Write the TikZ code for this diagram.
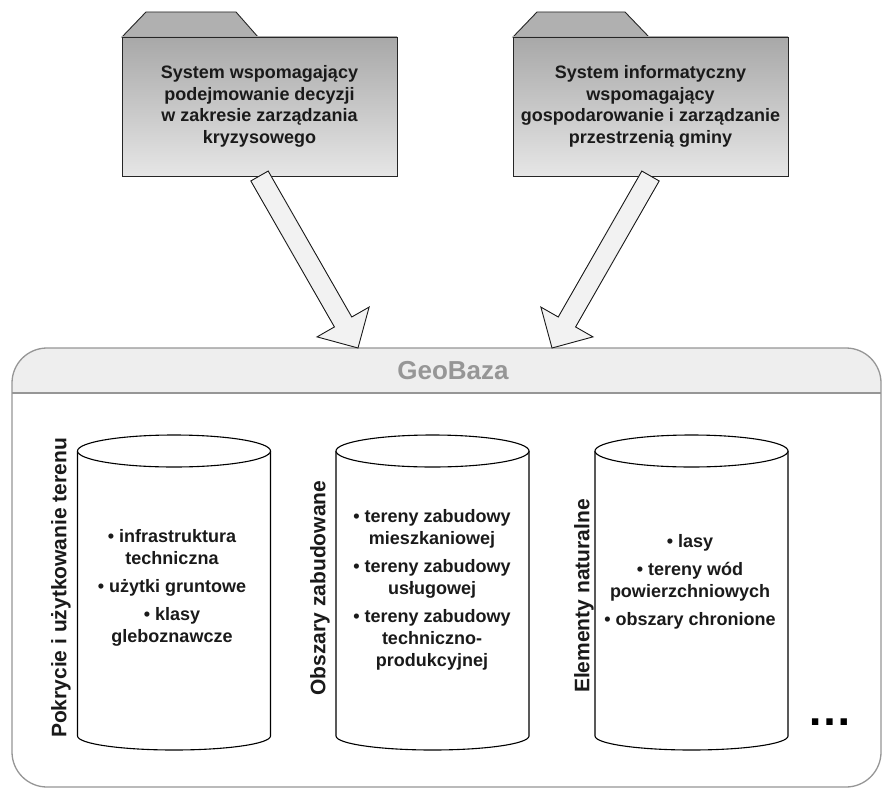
\documentclass[tikz,border=0pt]{standalone}
\usepackage{fontspec}
\setmainfont{Liberation Sans}
\usetikzlibrary{calc}
\definecolor{foldtop}{RGB}{168,168,168}
\definecolor{foldbot}{RGB}{230,230,230}
\definecolor{tabfill}{RGB}{176,176,176}
\definecolor{arrowfill}{RGB}{242,242,242}
\definecolor{hdrfill}{RGB}{238,238,238}
\definecolor{geoline}{RGB}{150,150,150}
\definecolor{geotext}{RGB}{150,150,150}
\definecolor{txt}{RGB}{26,26,26}
\begin{document}
\begin{tikzpicture}[x=1pt,y=-1pt,
  folderbody/.style={draw=black!85, line width=0.9pt, top color=foldtop, bottom color=foldbot,
     minimum width=275pt, minimum height=139pt, inner sep=0pt, outer sep=0pt,
     align=center, font=\fontsize{18}{21.7}\selectfont\bfseries, text=txt},
  foldertab/.style={draw=black!85, line width=0.9pt, fill=tabfill},
  blockarrow/.style={draw=black!90, line width=0.9pt, fill=arrowfill, line join=miter},
  cylline/.style={draw=black, line width=1.1pt},
  cyltext/.style={align=center, font=\fontsize{18}{22}\selectfont\bfseries, text=txt},
  sidelabel/.style={rotate=90, font=\fontsize{21}{24}\selectfont\bfseries, text=txt},
]
\fill[white] (0,0) rectangle (882,789);

% folders
\draw[foldertab] (122,37) -- (146,12) -- (236,12) -- (258,37) -- cycle;
\node[folderbody] (f1) at (259.5,106.5) {System wspomagający\\podejmowanie decyzji\\w zakresie zarządzania\\kryzysowego};
\draw[foldertab] (513,37) -- (537,12) -- (625,12) -- (649,37) -- cycle;
\node[folderbody] (f2) at (650.5,106.5) {System informatyczny\\wspomagający\\gospodarowanie i zarządzanie\\przestrzenią gminy};

% GeoBaza container
\begin{scope}
  \clip[rounded corners=35pt] (12,348) rectangle (881,787);
  \fill[hdrfill] (12,348) rectangle (881,393);
\end{scope}
\node[draw=geoline, line width=1.3pt, rounded corners=35pt, minimum width=869pt,
      minimum height=439pt, inner sep=0pt, outer sep=0pt] (geo) at (446.5,567.5) {};
\coordinate (hl) at (12,393);
\coordinate (hr) at (881,393);
\draw[geoline, line width=1.3pt] (hl) -- (hr);
\node[font=\fontsize{26}{30}\selectfont\bfseries, text=geotext] (gb) at (453,371) {GeoBaza};

% block arrows
\coordinate (s1) at (f1.south);
\coordinate (t1) at (358,348);
\coordinate (h1) at ($(t1)!30pt!(s1)$);
\draw[blockarrow] ($(s1)!10pt!90:(t1)$) -- ($(h1)!10pt!90:(t1)$) -- ($(h1)!30pt!90:(t1)$) -- (t1)
  -- ($(h1)!30pt!-90:(t1)$) -- ($(h1)!10pt!-90:(t1)$) -- ($(s1)!10pt!-90:(t1)$) -- cycle;
\coordinate (s2) at (f2.south);
\coordinate (t2) at (552,348);
\coordinate (h2) at ($(t2)!30pt!(s2)$);
\draw[blockarrow] ($(s2)!10pt!90:(t2)$) -- ($(h2)!10pt!90:(t2)$) -- ($(h2)!30pt!90:(t2)$) -- (t2)
  -- ($(h2)!30pt!-90:(t2)$) -- ($(h2)!10pt!-90:(t2)$) -- ($(s2)!10pt!-90:(t2)$) -- cycle;

% cylinders
\foreach \cx in {174,432.5,691.5}{
  \draw[cylline, fill=white] (\cx-96.5,451) -- (\cx-96.5,736)
     arc[start angle=180, end angle=360, x radius=96.5pt, y radius=14pt] -- (\cx+96.5,451);
  \draw[cylline, fill=white] (\cx,451) ellipse [x radius=96.5pt, y radius=16pt];
}

\node[cyltext] (c1) at (172,588) {• infrastruktura\\techniczna\\[6pt]• użytki gruntowe\\[6pt]• klasy\\gleboznawcze};
\node[cyltext] (c2) at (432,590) {• tereny zabudowy\\mieszkaniowej\\[6pt]• tereny zabudowy\\usługowej\\[6pt]• tereny zabudowy\\techniczno-\\produkcyjnej};
\node[cyltext] (c3) at (690,582) {• lasy\\[6pt]• tereny wód\\powierzchniowych\\[6pt]• obszary chronione};

\node[sidelabel] (l1) at (61,588) {Pokrycie i użytkowanie terenu};
\node[sidelabel] (l2) at (320,588) {Obszary zabudowane};
\node[sidelabel] (l3) at (584,596) {Elementy naturalne};

\node[font=\fontsize{45}{45}\selectfont\bfseries, text=black] (dots) at (830,722) {…};
\end{tikzpicture}
\end{document}
